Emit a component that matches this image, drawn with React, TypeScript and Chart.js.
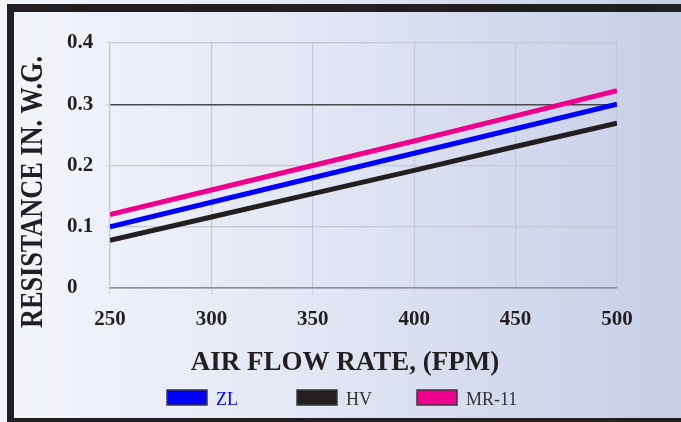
import { useEffect, useRef } from "react";
import { Chart, registerables } from "chart.js";

Chart.register(...registerables);

// ---- data ----
const flowRates = [250, 300, 350, 400, 450, 500];
const zlValues = [0.1, 0.14, 0.18, 0.22, 0.26, 0.3];
const hvValues = [0.078, 0.116, 0.154, 0.192, 0.231, 0.269];
const mr11Values = [0.12, 0.16, 0.2, 0.24, 0.281, 0.322];
const seriesNames = ["ZL", "HV", "MR-11"];
const xTickValues = [250, 300, 350, 400, 450, 500];
const yTickValues = [0, 0.1, 0.2, 0.3, 0.4];
const xAxisTitle = "AIR FLOW RATE, (FPM)";
const yAxisTitle = "RESISTANCE IN. W.G.";

// ---- styles ----
const lineColors = ["#0000ff", "#231f20", "#ec008c"];
const legendTextColors = ["#0000ff", "#333333", "#333333"];
const legendBoxX = [167, 297, 417];
const serif = "'Liberation Serif', 'Times New Roman', serif";

const decorPlugin = {
  id: "decor",
  beforeDraw(chart: any) {
    const { ctx, width, height } = chart;
    ctx.save();
    const g = ctx.createLinearGradient(0, 0, width, 0);
    g.addColorStop(0, "#f3f5fa");
    g.addColorStop(0.45, "#e3e7f3");
    g.addColorStop(1, "#c6cee8");
    ctx.fillStyle = g;
    ctx.fillRect(0, 0, width, height);
    ctx.fillStyle = "#231f20";
    ctx.fillRect(7, 4, width - 7, 8); // top
    ctx.fillRect(7, 4, 7, height - 4); // left
    ctx.fillRect(7, 418, width - 7, 4); // bottom
    ctx.restore();
  },
  afterDraw(chart: any) {
    const { ctx } = chart;
    ctx.save();
    ctx.fillStyle = "#231f20";
    // x title
    ctx.font = `bold 27px ${serif}`;
    ctx.textAlign = "center";
    ctx.textBaseline = "alphabetic";
    ctx.fillText(xAxisTitle, 345, 370);
    // y title
    ctx.save();
    ctx.translate(42, 192);
    ctx.rotate(-Math.PI / 2);
    ctx.scale(0.82, 1);
    ctx.font = `bold 32px ${serif}`;
    ctx.fillText(yAxisTitle, 0, 0);
    ctx.restore();
    // legend
    ctx.font = `18px ${serif}`;
    ctx.textAlign = "left";
    chart.data.datasets.forEach((ds: any, i: number) => {
      const bx = legendBoxX[i];
      ctx.fillStyle = ds.borderColor;
      ctx.fillRect(bx, 390, 40, 15);
      ctx.strokeStyle = "#3a3a3a";
      ctx.lineWidth = 1.5;
      ctx.strokeRect(bx, 390, 40, 15);
      ctx.fillStyle = legendTextColors[i];
      ctx.fillText(ds.label, bx + 49, 405);
    });
    ctx.restore();
  },
};

export default function App() {
  const ref = useRef<HTMLCanvasElement | null>(null);
  useEffect(() => {
    document.body.style.margin = "0";
    const seriesValues = [zlValues, hvValues, mr11Values];
    const chart = new Chart(ref.current as HTMLCanvasElement, {
      type: "line",
      data: {
        datasets: seriesNames.map((name, i) => ({
          label: name,
          data: flowRates.map((x, j) => ({ x, y: seriesValues[i][j] })),
          borderColor: lineColors[i],
          backgroundColor: lineColors[i],
          borderWidth: 5,
          pointRadius: 0,
          tension: 0,
          fill: false,
        })),
      },
      options: {
        animation: false,
        responsive: false,
        devicePixelRatio: 1,
        layout: { padding: { left: 67, top: 43, right: 64, bottom: 0 } },
        plugins: { legend: { display: false }, tooltip: { enabled: false } },
        scales: {
          x: {
            type: "linear",
            min: 250,
            max: 500,
            afterBuildTicks: (s: any) => {
              s.ticks = xTickValues.map((v) => ({ value: v }));
            },
            afterFit: (s: any) => {
              s.height = 134;
            },
            grid: {
              color: "#c4c8d6",
              lineWidth: 1.2,
              tickLength: 6,
              tickColor: "#d3d6e2",
            },
            border: { color: "#8c8e9a", width: 1.5 },
            ticks: {
              padding: 13,
              color: "#231f20",
              font: { family: serif, size: 21, weight: "bold" },
            },
          },
          y: {
            type: "linear",
            min: 0,
            max: 0.4,
            afterBuildTicks: (s: any) => {
              s.ticks = yTickValues.map((v) => ({ value: v }));
            },
            afterFit: (s: any) => {
              s.width = 43;
            },
            grid: {
              color: (c: any) =>
                c.tick && Math.abs(c.tick.value - 0.3) < 1e-6
                  ? "#4a4a4e"
                  : c.tick && c.tick.value === 0
                  ? "#8c8e9a"
                  : "#c4c8d6",
              lineWidth: (c: any) =>
                c.tick && Math.abs(c.tick.value - 0.3) < 1e-6 ? 1.5 : 1.2,
              tickLength: 4,
              tickColor: "#d3d6e2",
            },
            border: { color: "#c4c8d6", width: 1.2 },
            ticks: {
              crossAlign: "far",
              color: "#231f20",
              font: { family: serif, size: 21, weight: "bold" },
              callback: (v: any) => String(Math.round(Number(v) * 10) / 10),
            },
          },
        },
      },
      plugins: [decorPlugin],
    } as any);
    return () => chart.destroy();
  }, []);
  return (
    <div style={{ width: 681, height: 422 }}>
      <canvas ref={ref} width={681} height={422} style={{ display: "block" }} />
    </div>
  );
}
